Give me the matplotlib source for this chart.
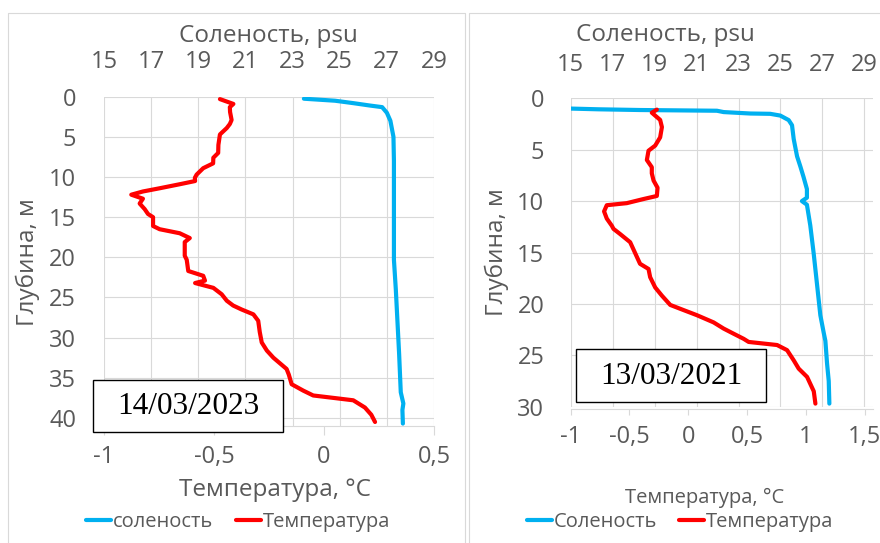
import matplotlib.pyplot as plt
from matplotlib.lines import Line2D
from matplotlib.patches import Rectangle

W, H = 880, 543

# 14/03/2023 - температура
depth_t23 = [0.3, 0.9, 1.3, 1.9, 2.9, 3.4, 3.9, 4.7, 6.0, 7.0, 7.6, 8.3, 8.9, 9.7,
             10.1, 10.5, 10.9, 11.4, 11.8, 12.2, 12.7, 13.3, 14.0, 14.6, 15.0, 16.1,
             16.5, 17.0, 17.6, 18.1, 19.8, 20.3, 21.7, 22.3, 22.9, 23.2, 23.8, 24.6,
             25.4, 26.0, 26.5, 27.1, 27.9, 29.3, 30.6, 31.6, 32.5, 33.9, 34.6, 35.8,
             36.6, 37.2, 37.4, 37.8, 38.7, 39.6, 40.5]
temp_23 = [-0.473, -0.412, -0.428, -0.427, -0.42, -0.428, -0.442, -0.473, -0.48,
           -0.481, -0.503, -0.504, -0.549, -0.579, -0.587, -0.586, -0.656, -0.747,
           -0.823, -0.876, -0.823, -0.838, -0.815, -0.80, -0.777, -0.777, -0.747,
           -0.656, -0.61, -0.633, -0.633, -0.624, -0.617, -0.549, -0.541, -0.586,
           -0.503, -0.465, -0.442, -0.413, -0.374, -0.321, -0.299, -0.292, -0.283,
           -0.26, -0.23, -0.17, -0.16, -0.147, -0.094, -0.049, 0.012, 0.133, 0.186,
           0.215, 0.232]
# 14/03/2023 - соленость
depth_s23 = [0.25, 0.5, 0.8, 1.1, 1.3, 2.0, 3.0, 5.0, 8.0, 12.0, 16.0, 20.3, 24.0,
             28.0, 32.0, 36.8, 38.2, 39.0, 40.7]
sal_23 = [23.48, 24.8, 25.57, 26.28, 26.8, 27.0, 27.15, 27.28, 27.3, 27.3, 27.3,
          27.3, 27.38, 27.45, 27.52, 27.59, 27.7, 27.66, 27.68]

# 13/03/2021 - температура
depth_t21 = [1.1, 1.4, 2.1, 2.8, 3.8, 4.6, 5.1, 6.0, 6.7, 7.3, 8.0, 8.7, 9.5, 9.8,
             10.2, 10.4, 11.0, 11.7, 12.4, 12.7, 13.2, 14.0, 14.7, 15.4, 16.1, 16.6,
             17.4, 18.4, 19.2, 20.1, 20.6, 21.1, 21.8, 22.4, 22.9, 23.4, 23.7, 24.0,
             24.5, 25.5, 26.3, 27.1, 28.5, 29.7]
temp_21 = [-0.267, -0.31, -0.239, -0.224, -0.239, -0.281, -0.338, -0.352, -0.31,
           -0.31, -0.295, -0.261, -0.267, -0.381, -0.523, -0.693, -0.716, -0.693,
           -0.65, -0.636, -0.58, -0.494, -0.466, -0.438, -0.41, -0.338, -0.324,
           -0.281, -0.224, -0.153, -0.04, 0.074, 0.216, 0.301, 0.386, 0.472, 0.514,
           0.756, 0.841, 0.898, 0.94, 1.011, 1.068, 1.082]
# 13/03/2021 - соленость
depth_s21 = [1.0, 1.07, 1.14, 1.21, 1.34, 1.48, 1.51, 1.68, 2.12, 2.62, 3.96, 5.64,
             6.65, 7.66, 8.83, 9.67, 10.0, 10.35, 12.36, 15.05, 18.07, 21.1, 22.8,
             23.6, 25.8, 27.5, 29.7]
sal_21 = [15.0, 16.32, 18.31, 21.97, 22.29, 23.56, 24.51, 24.99, 25.39, 25.55, 25.63,
          25.79, 25.95, 26.1, 26.26, 26.26, 26.02, 26.26, 26.42, 26.58, 26.74, 26.9,
          27.06, 27.14, 27.22, 27.3, 27.33]

sal_ticks = [15, 17, 19, 21, 23, 25, 27, 29]

grey = '#595959'
grid_c = '#D9D9D9'
blue = '#00B0F0'
red = '#FF0000'

plt.rcParams['font.family'] = ['Open Sans', 'DejaVu Sans']

fig = plt.figure(figsize=(W / 100, H / 100), dpi=100)


def rect(x0, y0, x1, y1):
    # пиксели -> доли фигуры
    return [x0 / W, 1 - y1 / H, (x1 - x0) / W, (y1 - y0) / H]


def fx(x):
    return x / W


def fy(y):
    return 1 - y / H


def panel(pos, ymax, yticks, sal_lim, t_lim, t_ticks, t_labels,
          d_s, s, d_t, t, spine_off, tick_len, top_pad, y_pad, bot_pad):
    ax = fig.add_axes(rect(*pos))
    ax2 = ax.twiny()
    ls, = ax.plot(s, d_s, color=blue, lw=3, solid_joinstyle='round', solid_capstyle='round')
    lt, = ax2.plot(t, d_t, color=red, lw=3, solid_joinstyle='round', solid_capstyle='round')

    ax.set_xlim(*sal_lim)
    ax.set_ylim(ymax, 0)
    ax.set_xticks(sal_ticks)
    ax.set_yticks(yticks)
    ax.xaxis.tick_top()
    ax.tick_params(axis='x', length=0, pad=top_pad, labelsize=17, labelcolor=grey)
    ax.tick_params(axis='y', length=0, pad=y_pad, labelsize=17, labelcolor=grey)
    ax.grid(color=grid_c, lw=0.8)
    ax.set_axisbelow(True)
    for sp in ax.spines.values():
        sp.set_visible(False)

    ax2.set_xlim(*t_lim)
    ax2.set_xticks(t_ticks, t_labels)
    ax2.xaxis.set_ticks_position('bottom')
    ax2.tick_params(axis='x', length=tick_len, width=0.8, color=grid_c,
                    pad=bot_pad, labelsize=17, labelcolor=grey)
    for name, sp in ax2.spines.items():
        sp.set_visible(name == 'bottom')
    ax2.spines['bottom'].set_color(grid_c)
    ax2.spines['bottom'].set_linewidth(0.8)
    ax2.spines['bottom'].set_position(('outward', spine_off))
    return ls, lt


# левая диаграмма (2023)
ls1, lt1 = panel((104, 96.7, 434, 426), 41, range(0, 41, 5), (15, 29), (-1, 0.5),
                 [-1, -0.5, 0, 0.5], ['-1', '-0,5', '0', '0,5'],
                 depth_s23, sal_23, depth_t23, temp_23,
                 0, 6.5, 16, 20, 7)

# правая диаграмма (2021)
ls2, lt2 = panel((570.7, 98.3, 873, 406.7), 30, range(0, 31, 5), (15, 29.41), (-1, 1.572),
                 [-1, -0.5, 0, 0.5, 1, 1.5], ['-1', '-0,5', '0', '0,5', '1', '1,5'],
                 depth_s21, sal_21, depth_t21, temp_21,
                 2, 4.5, 15, 19, 7)

# подписи осей
fig.text(fx(268), fy(42), 'Соленость, psu', ha='center', va='baseline', size=17.5, color=grey)
fig.text(fx(665), fy(41), 'Соленость, psu', ha='center', va='baseline', size=17.5, color=grey)
fig.text(fx(28), fy(262), 'Глубина, м', rotation=90, ha='center', va='center', size=17.5, color=grey)
fig.text(fx(497), fy(252), 'Глубина, м', rotation=90, ha='center', va='center', size=17.5, color=grey)
fig.text(fx(274.5), fy(496), 'Температура, °C', ha='center', va='baseline', size=17.5, color=grey)
fig.text(fx(704.7), fy(503), 'Температура, °C', ha='center', va='baseline', size=14.5, color=grey)

# легенды
fig.legend([ls1, lt1], ['соленость', 'Температура'], ncol=2, loc='center',
           bbox_to_anchor=(fx(238), fy(521.7)), frameon=False, fontsize=14.5,
           handlelength=1.25, handletextpad=0.1, columnspacing=1.1,
           labelcolor=grey, borderpad=0, borderaxespad=0)
fig.legend([ls2, lt2], ['Соленость', 'Температура'], ncol=2, loc='center',
           bbox_to_anchor=(fx(680), fy(522)), frameon=False, fontsize=14.5,
           handlelength=1.25, handletextpad=0.1, columnspacing=1.05,
           labelcolor=grey, borderpad=0, borderaxespad=0)

# рамки с датами
for (x0, y0, x1, y1), txt in [((93.3, 379.6, 283.3, 431.7), '14/03/2023'),
                              ((576, 349.3, 766, 401.7), '13/03/2021')]:
    fig.add_artist(Rectangle((fx(x0), fy(y1)), (x1 - x0) / W, (y1 - y0) / H,
                             transform=fig.transFigure, fc='white', ec='black',
                             lw=1, zorder=5))
    fig.text(fx((x0 + x1) / 2), fy((y0 + y1) / 2 + 1), txt, family='Liberation Serif',
             size=22.5, ha='center', va='center', zorder=6)

# границы областей диаграмм
for xs, ys in [([8.3, 8.3, 465, 465], [543, 13.3, 13.3, 543]),
               ([469.3, 469.3, 880], [543, 13.3, 13.3])]:
    fig.add_artist(Line2D([fx(x) for x in xs], [fy(y) for y in ys],
                          transform=fig.transFigure, color=grid_c, lw=0.8))

fig.savefig('out.png', dpi=100)
